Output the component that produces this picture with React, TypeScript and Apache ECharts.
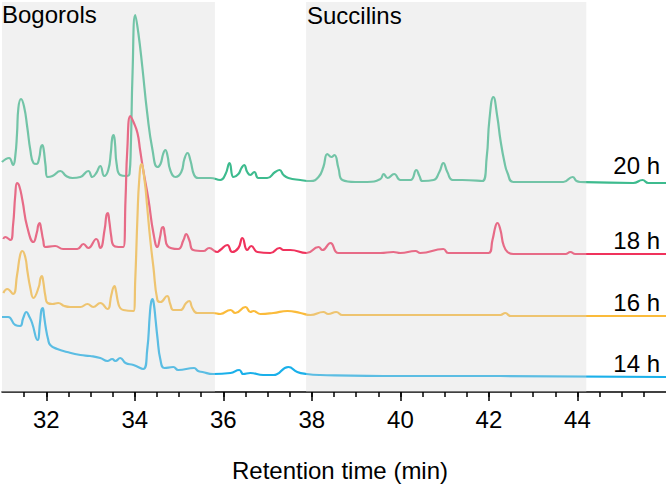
import React, { useEffect, useRef } from "react";
import * as echarts from "echarts";

// Retention time (min), offset intensity (arbitrary units)
const trace20h: [number, number][] = [
  [31.0, 230], [31.16, 234], [31.25, 227], [31.3, 236], [31.34, 259], [31.37, 284], [31.43, 293],
  [31.5, 285], [31.57, 265], [31.64, 242], [31.71, 229], [31.78, 228], [31.84, 234], [31.88, 245],
  [31.91, 247], [31.94, 243], [31.98, 228], [32.03, 215], [32.14, 216], [32.32, 221], [32.45, 216],
  [32.59, 214], [32.77, 215], [32.95, 221], [33.04, 215], [33.13, 219], [33.22, 226], [33.31, 216],
  [33.4, 222], [33.46, 240], [33.49, 254], [33.52, 257], [33.55, 250], [33.59, 228], [33.67, 217],
  [33.81, 216], [33.88, 218], [33.91, 245], [33.95, 320], [34.01, 377], [34.08, 359], [34.17, 325],
  [34.28, 279], [34.4, 242], [34.51, 225], [34.58, 228], [34.64, 238], [34.69, 242], [34.74, 236],
  [34.8, 222], [34.92, 215], [35.05, 220], [35.12, 233], [35.19, 239], [35.26, 231], [35.34, 217],
  [35.43, 214], [35.71, 214], [35.93, 212], [36.05, 218], [36.14, 229], [36.23, 215], [36.34, 218],
  [36.41, 224], [36.47, 227], [36.54, 220], [36.61, 217], [36.7, 220], [36.79, 214], [36.99, 214],
  [37.17, 220], [37.27, 222], [37.36, 217], [37.47, 214], [37.74, 212], [37.97, 211], [38.15, 215],
  [38.26, 225], [38.35, 238], [38.44, 235], [38.51, 237], [38.6, 224], [38.69, 212], [38.98, 210],
  [39.25, 210], [39.55, 213], [39.62, 218], [39.71, 214], [39.86, 218], [40.0, 212], [40.23, 212],
  [40.36, 222], [40.43, 216], [40.5, 211], [40.75, 212], [40.88, 220], [40.97, 229], [41.06, 220],
  [41.18, 212], [41.4, 212], [41.85, 211], [41.95, 235], [42.01, 272], [42.1, 295], [42.19, 275],
  [42.26, 252], [42.35, 230], [42.42, 219], [42.55, 210], [43.01, 210], [43.68, 210], [43.89, 215],
  [43.98, 211], [44.07, 210], [45.26, 209], [45.47, 212], [45.6, 209], [46.0, 209],
];

const trace18h: [number, number][] = [
  [31.03, 153], [31.07, 155], [31.19, 152], [31.25, 167], [31.3, 197], [31.34, 209], [31.39, 206],
  [31.46, 192], [31.57, 165], [31.71, 150], [31.79, 160], [31.82, 167], [31.85, 169], [31.88, 164],
  [31.93, 152], [31.98, 145], [32.2, 146], [32.38, 143], [32.7, 143], [32.84, 148], [32.95, 144],
  [33.13, 153], [33.22, 144], [33.32, 163], [33.36, 177], [33.39, 179], [33.42, 172], [33.47, 155],
  [33.51, 147], [33.63, 145], [33.74, 145], [33.79, 192], [33.83, 242], [33.9, 276], [33.97, 270],
  [34.06, 259], [34.12, 242], [34.19, 222], [34.31, 192], [34.42, 159], [34.51, 145], [34.57, 155],
  [34.61, 164], [34.64, 165], [34.68, 157], [34.74, 146], [34.98, 143], [35.1, 152], [35.16, 158],
  [35.23, 152], [35.32, 142], [35.55, 141], [35.68, 144], [35.86, 140], [35.93, 142], [36.09, 147],
  [36.2, 140], [36.34, 144], [36.43, 154], [36.54, 142], [36.63, 146], [36.77, 140], [37.06, 139],
  [37.27, 144], [37.36, 142], [37.51, 142], [37.88, 139], [38.15, 145], [38.24, 142], [38.42, 149],
  [38.6, 139], [39.55, 139], [39.84, 140], [40.0, 139], [40.34, 141], [40.45, 139], [40.97, 143],
  [41.08, 139], [41.99, 139], [42.08, 152], [42.15, 166], [42.19, 169], [42.26, 162], [42.33, 147],
  [42.42, 140], [42.55, 138], [43.73, 138], [43.84, 140], [43.95, 138], [46.0, 138],
];

const trace16h: [number, number][] = [
  [31.03, 99], [31.12, 103], [31.25, 98], [31.34, 117], [31.41, 137], [31.46, 141], [31.53, 134],
  [31.57, 122], [31.64, 104], [31.71, 94], [31.83, 105], [31.87, 114], [31.9, 116], [31.93, 111],
  [31.98, 96], [32.03, 89], [32.14, 88], [32.27, 89], [32.41, 86], [32.54, 85], [32.77, 85],
  [32.93, 88], [33.06, 85], [33.22, 89], [33.38, 83], [33.47, 97], [33.51, 104], [33.54, 106],
  [33.57, 102], [33.62, 90], [33.67, 84], [33.74, 82], [33.97, 81], [34.01, 112], [34.06, 175],
  [34.1, 212], [34.15, 228], [34.22, 212], [34.28, 185], [34.35, 152], [34.42, 125], [34.51, 92],
  [34.58, 90], [34.73, 96], [34.8, 88], [34.87, 82], [35.03, 82], [35.16, 89], [35.23, 91],
  [35.3, 84], [35.41, 79], [35.77, 79], [35.93, 78], [36.16, 82], [36.27, 79], [36.5, 85],
  [36.61, 80], [36.68, 81], [36.84, 78], [37.13, 79], [37.45, 81], [37.74, 79], [37.97, 77],
  [38.26, 80], [38.37, 78], [38.55, 80], [38.69, 77], [42.26, 77], [42.37, 79], [42.49, 76],
  [46.0, 76],
];

const trace14h: [number, number][] = [
  [31.0, 75], [31.14, 75], [31.3, 67], [31.41, 66], [31.48, 74], [31.55, 80], [31.62, 75],
  [31.68, 69], [31.8, 52], [31.86, 70], [31.89, 82], [31.92, 84], [31.95, 76], [31.99, 64],
  [32.04, 53], [32.09, 47], [32.25, 43], [32.47, 40], [32.77, 37], [32.99, 36], [33.22, 34],
  [33.38, 31], [33.49, 33], [33.56, 31], [33.67, 34], [33.79, 29], [33.97, 27], [34.19, 23],
  [34.28, 42], [34.34, 78], [34.37, 90], [34.4, 93], [34.43, 88], [34.47, 72], [34.51, 55],
  [34.58, 32], [34.67, 24], [34.87, 25], [34.98, 22], [35.34, 24], [35.43, 21], [35.53, 20],
  [35.77, 18], [36.16, 19], [36.36, 22], [36.45, 18], [36.61, 19], [36.9, 17], [37.13, 17],
  [37.47, 25], [37.67, 20], [37.88, 18], [38.19, 17], [40.0, 16], [42.26, 16], [46.0, 15],
];

const seriesNames = ["20 h", "18 h", "16 h", "14 h"];
const seriesColors = ["#3dbb8e", "#f0325c", "#fbbb3a", "#1ab0ea"];
const traces = [trace20h, trace18h, trace16h, trace14h];

const majorTicks = [32, 34, 36, 38, 40, 42, 44];
const minorTicks = [31.5, 32, 32.5, 33, 33.5, 34, 34.5, 35, 35.5, 36, 36.5, 37, 37.5, 38, 38.5, 39, 39.5, 40, 40.5, 41, 41.5, 42, 42.5, 43, 43.5, 44, 44.5, 45, 45.5];

const regions = [
  { name: "Bogorols", from: 31, to: 35.81 },
  { name: "Succilins", from: 37.87, to: 44.2 },
];

const FONT = '"Liberation Sans", Arial, Helvetica, sans-serif';

export default function App() {
  const ref = useRef<HTMLDivElement>(null);
  useEffect(() => {
    if (!ref.current) return;
    const chart = echarts.init(ref.current, null, { renderer: "svg" });
    const lineSeries = traces.map((t, i) => ({
      type: "line",
      name: seriesNames[i],
      data: t,
      showSymbol: false,
      symbol: "none",
      smooth: 0.5,
      lineStyle: { color: seriesColors[i], width: 2.2 },
      itemStyle: { color: seriesColors[i] },
      z: 2,
    }));
    const option: any = {
      animation: false,
      grid: { left: 2, right: 0, top: 2, bottom: 99, containLabel: false },
      xAxis: [
        {
          type: "value",
          min: 31,
          max: 46,
          position: "bottom",
          axisLine: { show: true, lineStyle: { color: "#000", width: 1.5 } },
          axisTick: { show: true, customValues: majorTicks, length: 9, lineStyle: { color: "#000", width: 1.5 } },
          axisLabel: { show: true, customValues: majorTicks, fontSize: 24, color: "#000", fontFamily: FONT, margin: 15 },
          splitLine: { show: false },
        },
        {
          type: "value",
          min: 31,
          max: 46,
          position: "bottom",
          axisLine: { show: false },
          axisTick: { show: true, customValues: minorTicks, length: 5, lineStyle: { color: "#000", width: 1.5 } },
          axisLabel: { show: false },
          splitLine: { show: false },
        },
      ],
      yAxis: { type: "value", min: 0, max: 390, show: false },
      series: [
        ...lineSeries,
        {
          type: "line",
          data: [],
          z: 10,
          markArea: {
            silent: true,
            z: 10,
            itemStyle: { color: "rgba(215,215,215,0.35)" },
            label: { show: false },
            data: regions.map((r) => [{ xAxis: r.from }, { xAxis: r.to }]),
          },
        },
      ],
      graphic: [
        { type: "text", x: 2, y: 14, z: 100, style: { text: regions[0].name, font: `24px ${FONT}`, fill: "#000", align: "left", verticalAlign: "middle" } },
        { type: "text", x: 307, y: 15, z: 100, style: { text: regions[1].name, font: `24px ${FONT}`, fill: "#000", align: "left", verticalAlign: "middle" } },
        { type: "text", x: 660, y: 165, z: 100, style: { text: seriesNames[0], font: `24px ${FONT}`, fill: "#000", align: "right", verticalAlign: "middle" } },
        { type: "text", x: 660, y: 240, z: 100, style: { text: seriesNames[1], font: `24px ${FONT}`, fill: "#000", align: "right", verticalAlign: "middle" } },
        { type: "text", x: 660, y: 302, z: 100, style: { text: seriesNames[2], font: `24px ${FONT}`, fill: "#000", align: "right", verticalAlign: "middle" } },
        { type: "text", x: 660, y: 363, z: 100, style: { text: seriesNames[3], font: `24px ${FONT}`, fill: "#000", align: "right", verticalAlign: "middle" } },
        { type: "text", x: 340, y: 470, z: 100, style: { text: "Retention time (min)", font: `24px ${FONT}`, fill: "#000", align: "center", verticalAlign: "middle" } },
      ],
    };
    chart.setOption(option);
    return () => chart.dispose();
  }, []);
  return <div ref={ref} style={{ position: "absolute", left: 0, top: 0, width: 666, height: 491 }} />;
}
